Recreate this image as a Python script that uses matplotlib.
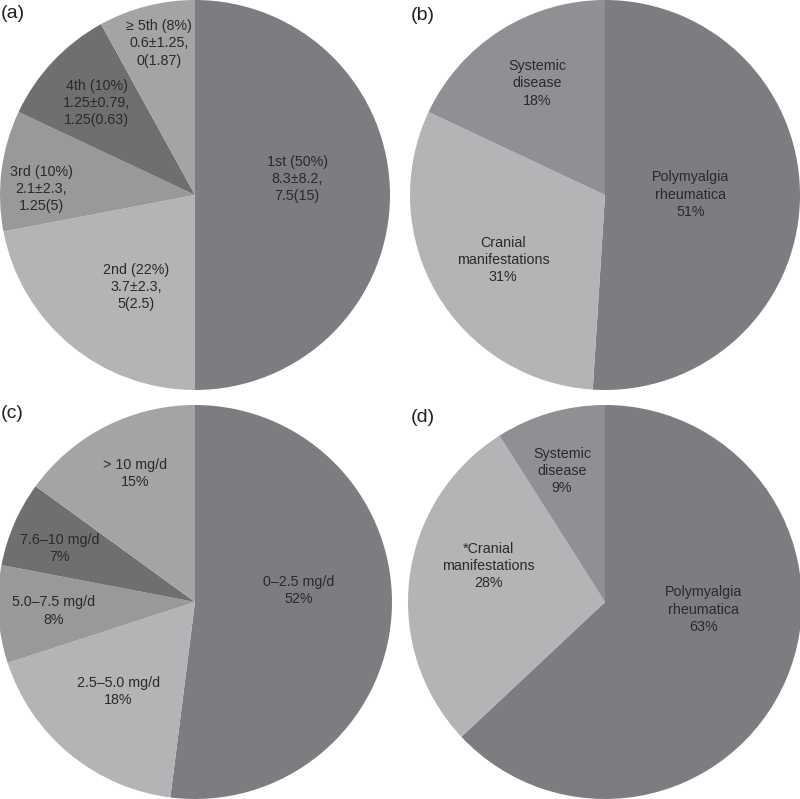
import numpy as np
import matplotlib.pyplot as plt

# data
labels_a = ["1st (50%)\n8.3\u00b18.2,\n7.5(15)",
            "2nd (22%)\n3.7\u00b12.3,\n5(2.5)",
            "3rd (10%)\n2.1\u00b12.3,\n1.25(5)",
            "4th (10%)\n1.25\u00b10.79,\n1.25(0.63)",
            "\u2265 5th (8%)\n0.6\u00b11.25,\n0(1.87)"]
values_a = [50, 22, 10, 10, 8]

labels_b = ["Polymyalgia\nrheumatica\n51%",
            "Cranial\nmanifestations\n31%",
            "Systemic\ndisease\n18%"]
values_b = [51, 31, 18]

labels_c = ["0\u20132.5 mg/d\n52%",
            "2.5\u20135.0 mg/d\n18%",
            "5.0\u20137.5 mg/d\n8%",
            "7.6\u201310 mg/d\n7%",
            "> 10 mg/d\n15%"]
values_c = [52, 18, 8, 7, 15]

labels_d = ["Polymyalgia\nrheumatica\n63%",
            "*Cranial\nmanifestations\n28%",
            "Systemic\ndisease\n9%"]
values_d = [63, 28, 9]

# greys
DARK = "#7c7d80"
LIGHT = "#b2b4b6"
MID = "#97999b"
DARKER = "#6e6f71"
PALE = "#a2a4a6"
SYS = "#8f9093"

W, H = 800, 799
fig = plt.figure(figsize=(W / 100, H / 100), dpi=100)
fig.patch.set_facecolor("white")

FONT = "Liberation Sans"


def panel(cx, cy, R, values, labels, colors, radii, shifts, tag, tag_xy):
    ax = fig.add_axes([(cx - R) / W, 1 - (cy + R) / H, 2 * R / W, 2 * R / H])
    wedges, _ = ax.pie(values, colors=colors, startangle=90, counterclock=False,
                       wedgeprops=dict(linewidth=0))
    ax.set_xlim(-1, 1)
    ax.set_ylim(-1, 1)
    ax.set_aspect("auto")
    ax.axis("off")
    for w, lab, r, s in zip(wedges, labels, radii, shifts):
        ang = np.deg2rad((w.theta1 + w.theta2) / 2 + s)
        ax.text(r * np.cos(ang), r * np.sin(ang), lab, ha="center", va="center",
                fontsize=10.3, family=FONT, color="#2a2a2a", linespacing=1.3)
    fig.text(tag_xy[0] / W, 1 - tag_xy[1] / H, tag, fontsize=14, family=FONT,
             color="#222222", ha="left", va="center")


panel(195, 195, 195, values_a, labels_a, [DARK, LIGHT, MID, DARKER, PALE],
      [0.53, 0.56, 0.79, 0.69, 0.80], [9, 7, 5, 0, -1], "(a)", (1, 13))
panel(605, 195, 195, values_b, labels_b, [DARK, LIGHT, SYS],
      [0.44, 0.62, 0.67], [2, 2, -1], "(b)", (411, 15))
panel(195, 602, 197, values_c, labels_c, [DARK, LIGHT, MID, DARKER, PALE],
      [0.53, 0.60, 0.72, 0.74, 0.72], [10, -1, 0, 2, -2], "(c)", (1, 414))
panel(605, 602, 197, values_d, labels_d, [DARK, LIGHT, SYS],
      [0.50, 0.62, 0.70], [19, -10, 2], "(d)", (411, 417))

fig.savefig("out.png", dpi=100, facecolor="white")
